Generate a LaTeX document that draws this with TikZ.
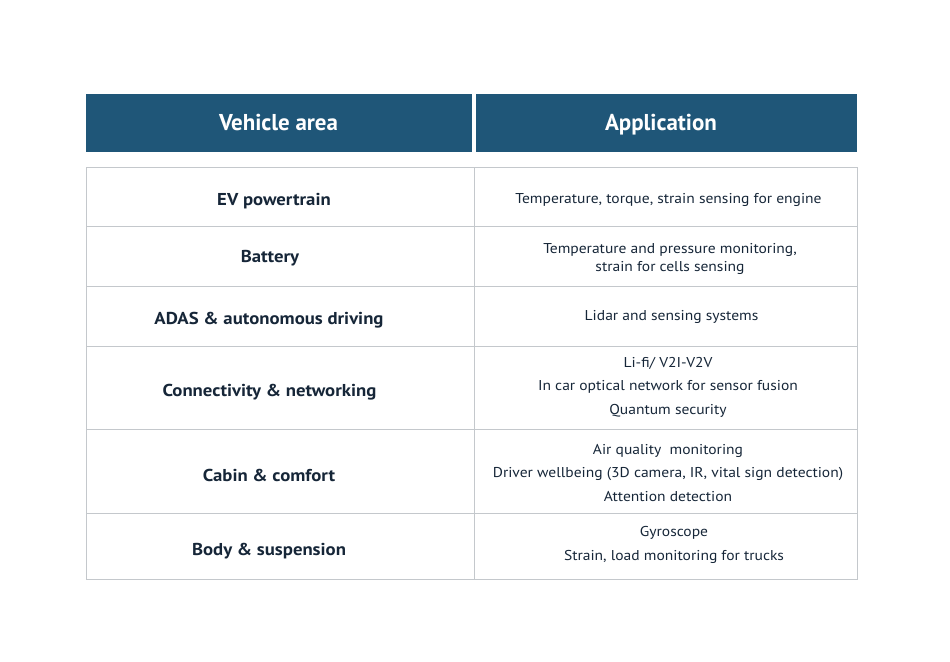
\documentclass[tikz,border=0pt]{standalone}
\usepackage{fontspec}
\setmainfont{PT Sans}
\newfontfamily\widesans[FakeStretch=1.09]{PT Sans}
\usepackage{tikz}
\definecolor{headblue}{RGB}{31,86,120}
\definecolor{inkblue}{RGB}{22,38,56}
\definecolor{gridgray}{RGB}{196,200,204}
\tikzset{
  headcell/.style={anchor=base, text=white, font=\bfseries\fontsize{17.2}{20}\selectfont},
  areatext/.style={anchor=base, text=inkblue, font=\widesans\bfseries\fontsize{12.9}{15}\selectfont},
  apptext/.style={anchor=base, text=inkblue, align=center, font=\widesans\fontsize{10.7}{13.5}\selectfont},
  gridline/.style={draw=gridgray, line width=0.7pt}
}
\begin{document}
\begin{tikzpicture}[x=0.75pt, y=-0.75pt]
    \useasboundingbox (0,0) rectangle (950,661);
    % header band
    \fill[headblue] (86,94) rectangle (472,152);
    \fill[headblue] (476,94) rectangle (857,152);
    \node[headcell] (harea) at (278.5,130) {Vehicle area};
    \node[headcell] (happ) at (661,130) {Application};
    % table grid
    \draw[gridline] (86,167) rectangle (857,579);
    \draw[gridline] (474,167) -- (474,579);
    \foreach \y in {226,286,346,429,513}
      \draw[gridline] (86,\y) -- (857,\y);
    % vehicle areas
    \node[areatext] (ev) at (274,205) {EV powertrain};
    \node[areatext] (bat) at (270,262.3) {Battery};
    \node[areatext] (adas) at (269,324.3) {ADAS \& autonomous driving};
    \node[areatext] (conn) at (269.5,396.7) {Connectivity \& networking};
    \node[areatext] (cabin) at (269,481) {Cabin \& comfort};
    \node[areatext] (body) at (269,555.3) {Body \& suspension};
    % applications (base = last line)
    \node[apptext] (evapp) at (668.5,203) {Temperature, torque, strain sensing for engine};
    \node[apptext] (batapp) at (670,271) {Temperature and pressure monitoring,\\ strain for cells sensing};
    \node[apptext] (adasapp) at (671.5,320.7) {Lidar and sensing systems};
    \node[apptext] (connapp) at (668,414) {Li-fi/ V2I-V2V\\[4.1pt] In car optical network for sensor fusion\\[4.1pt] Quantum security};
    \node[apptext] (cabinapp) at (668,501) {Air quality\ \ monitoring\\[3.8pt] Driver wellbeing (3D camera, IR, vital sign detection)\\[3.8pt] Attention detection};
    \node[apptext] (bodyapp) at (674,560) {Gyroscope\\[4.3pt] Strain, load monitoring for trucks};
\end{tikzpicture}
\end{document}
